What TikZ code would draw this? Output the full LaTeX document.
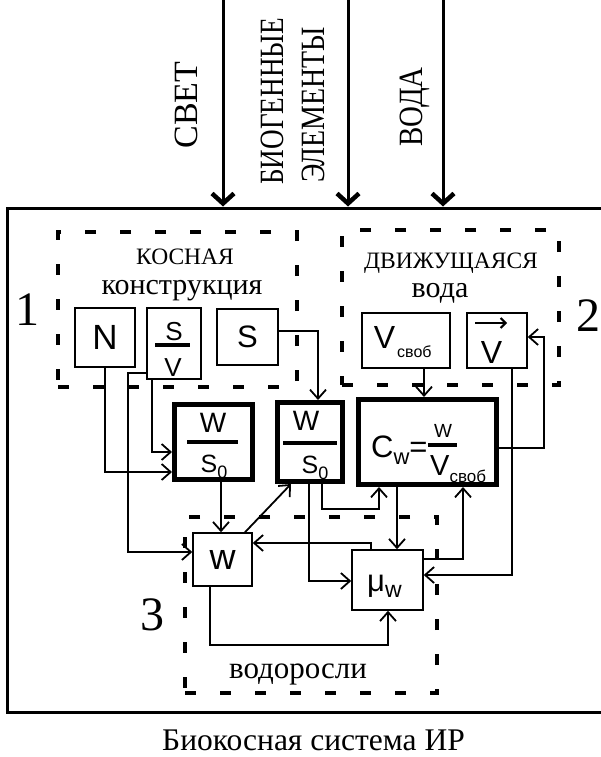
\documentclass[tikz,border=0pt]{standalone}
\usepackage{fontspec}
\setmainfont{Liberation Serif}
\newfontfamily\arfont{Liberation Sans}
\usetikzlibrary{arrows.meta}
\newcommand\myfs[1]{\fontsize{#1}{#1}\selectfont}
\begin{document}
\begin{tikzpicture}[x=1pt,y=-1pt,
 thinbox/.style={draw,line width=1.5pt,inner sep=0pt,font=\arfont},
 thickbox/.style={draw,line width=5pt,inner sep=0pt,font=\arfont},
 region/.style={draw,line width=4pt,dash pattern=on 11pt off 24pt,inner sep=0pt},
 conn/.style={line width=1.8pt,-{Straight Barb[length=9pt,width=16pt,line width=1.8pt]}},
 bigarr/.style={line width=3pt,-{Straight Barb[length=10pt,width=22pt,line width=4.5pt]}},
 lbl/.style={inner sep=0pt},
 txt/.style={inner sep=0pt,anchor=base,font=\arfont},
 fbar/.style={line width=4pt}]
\useasboundingbox (0,0) rectangle (601,757);

% outer system box
\node[draw,line width=3pt,inner sep=0pt,minimum width=596pt,minimum height=504pt] (sys) at (305,460) {};

% inputs
\coordinate (in1) at (223,0);
\coordinate (in2) at (348,0);
\coordinate (in3) at (443,0);
\draw[bigarr] (in1) -- (in1 |- sys.north);
\draw[bigarr] (in2) -- (in2 |- sys.north);
\draw[bigarr] (in3) -- (in3 |- sys.north);
\node[lbl,rotate=90,font=\myfs{34}] (tsvet) at (186,105) {СВЕТ};
\node[lbl,rotate=90,anchor=west,font=\myfs{34}] (tbio) at (272.5,185) {\scalebox{0.8}[1]{БИОГЕННЫЕ}};
\node[lbl,rotate=90,anchor=west,font=\myfs{34}] (tel) at (313,183) {\scalebox{0.82}[1]{ЭЛЕМЕНТЫ}};
\node[lbl,rotate=90,font=\myfs{34}] (tvoda) at (415,107) {\scalebox{0.85}[1]{ВОДА}};

% dashed regions
\node[region,minimum width=239pt,minimum height=155pt] (reg1) at (177.5,309.5) {};
\node[region,minimum width=217pt,minimum height=155pt] (reg2) at (450.5,307.5) {};
\node[region,minimum width=252pt,minimum height=176pt] (reg3) at (311,605) {};
\node[lbl,font=\myfs{48}] (n1) at (27,310) {1};
\node[lbl,font=\myfs{48}] (n2) at (588,316) {2};
\node[lbl,font=\myfs{48}] (n3) at (152,615) {3};

% region texts
\node[lbl,font=\myfs{23.5}] (tkos) at (185,257) {КОСНАЯ};
\node[lbl,anchor=base,font=\myfs{30}] (tkon) at (182,294) {конструкция};
\node[lbl,anchor=base,font=\myfs{23.5}] (tdv) at (451,268) {ДВИЖУЩАЯСЯ};
\node[lbl,anchor=base,font=\myfs{30}] (tvd) at (440,297) {вода};
\node[lbl,anchor=base,font=\myfs{31}] (tvdr) at (298,678) {водоросли};
\node[lbl,anchor=base,font=\myfs{31.5}] (tcap) at (313.5,750) {Биокосная система ИР};

% boxes of region 1
\node[thinbox,minimum width=60pt,minimum height=59pt,font=\arfont\myfs{35}] (N) at (105,337.5) {N};
\node[thinbox,minimum width=54pt,minimum height=71pt] (SV) at (174,343.5) {};
\node[txt,font=\arfont\myfs{26}] (tSVs) at (174,340) {S};
\node[txt,font=\arfont\myfs{26}] (tSVv) at (173,376) {V};
\draw[fbar] (155,345) -- (190,345);
\node[thinbox,minimum width=61pt,minimum height=56pt,font=\arfont\myfs{31}] (S) at (247.5,337) {S};

% boxes of region 2
\node[thinbox,minimum width=88pt,minimum height=55pt] (Vsv) at (406,340.5) {};
\node[txt,font=\arfont\myfs{32}] (tVsv) at (384.5,348) {V};
\node[txt,anchor=base west,font=\arfont\myfs{16}] (tsvob1) at (397,357) {своб};
\node[thinbox,minimum width=60pt,minimum height=55pt] (Vvec) at (497,340.5) {};
\node[txt,font=\arfont\myfs{32}] (tVvec) at (491.5,363) {V};
\draw[line width=2pt,-{Straight Barb[length=5pt,width=10pt,line width=2pt]}] (475,323) -- (507,323);

% thick boxes
\node[thickbox,minimum width=78pt,minimum height=75pt] (B1) at (213.5,442) {};
\node[txt,font=\arfont\myfs{28}] (tB1w) at (213,432) {W};
\draw[fbar] (187,442) -- (238,442);
\node[txt,font=\arfont\myfs{25}] (tB1s) at (214,472) {S{\myfs{18}\raisebox{-6pt}{0}}};

\node[thickbox,minimum width=65pt,minimum height=79pt] (B2) at (310,442) {};
\node[txt,font=\arfont\myfs{28}] (tB2w) at (306,430) {W};
\draw[fbar] (283,442.5) -- (337,442.5);
\node[txt,font=\arfont\myfs{25}] (tB2s) at (315,473) {S{\myfs{18}\raisebox{-6pt}{0}}};

\node[thickbox,minimum width=138pt,minimum height=85pt] (Cw) at (427,442) {};
\node[txt,anchor=base west,font=\arfont\myfs{31}] (tCw) at (371,457) {C\raisebox{-7pt}{\myfs{22}w}=};
\node[txt,font=\arfont\myfs{19}] (tCww) at (443,437) {W};
\draw[line width=3.5pt] (428,445) -- (457,445);
\node[txt,anchor=base west,font=\arfont\myfs{29}] (tCwv) at (430,475) {V\raisebox{-7pt}{\myfs{17}своб}};

% region 3 boxes
\node[thinbox,minimum width=59pt,minimum height=53pt,font=\arfont\myfs{36}] (w) at (222.5,559.5) {w};
\node[thinbox,minimum width=71pt,minimum height=60pt] (mu) at (387.5,580) {};
\node[txt,anchor=base west,font=\arfont\myfs{31}] (tmu) at (367,591) {μ\raisebox{-6pt}{\myfs{23}w}};

% connectors
\draw[conn] (N.south) |- (B1.west |- 0,472);
\draw[conn] (SV.west |- 0,373) -| (128,552) -- (w.west |- 0,552);
\draw[conn] (SV.south -| 152,0) |- (B1.west |- 0,452);
\draw[conn] (B1.south -| 221,0) -- (w.north -| 221,0);
\draw[conn] (w.north -| 245,0) -- (B2.south -| 291,0);
\draw[conn] (B2.south -| 309,0) |- (mu.west |- 0,581);
\draw[conn] (B2.south -| 322,0) |- (379,509) -- (Cw.south -| 379,0);
\draw[conn] (Cw.south -| 397,0) -- (mu.north -| 397,0);
\draw[conn] (mu.north -| 371,0) |- (w.east |- 0,543);
\draw[conn] (mu.east |- 0,559) -| (Cw.south -| 463,0);
\draw[conn] (Vvec.south -| 512,0) |- (mu.east |- 0,575);
\draw[conn] (Cw.east |- 0,448) -| (544,337) -- (Vvec.east |- 0,337);
\draw[conn] (Vsv.south -| 424,0) -- (Cw.north -| 424,0);
\draw[conn] (S.east |- 0,331) -| (B2.north -| 318,0);
\draw[conn] (w.south -| 210,0) |- (388,645) -- (mu.south -| 388,0);
\end{tikzpicture}
\end{document}
